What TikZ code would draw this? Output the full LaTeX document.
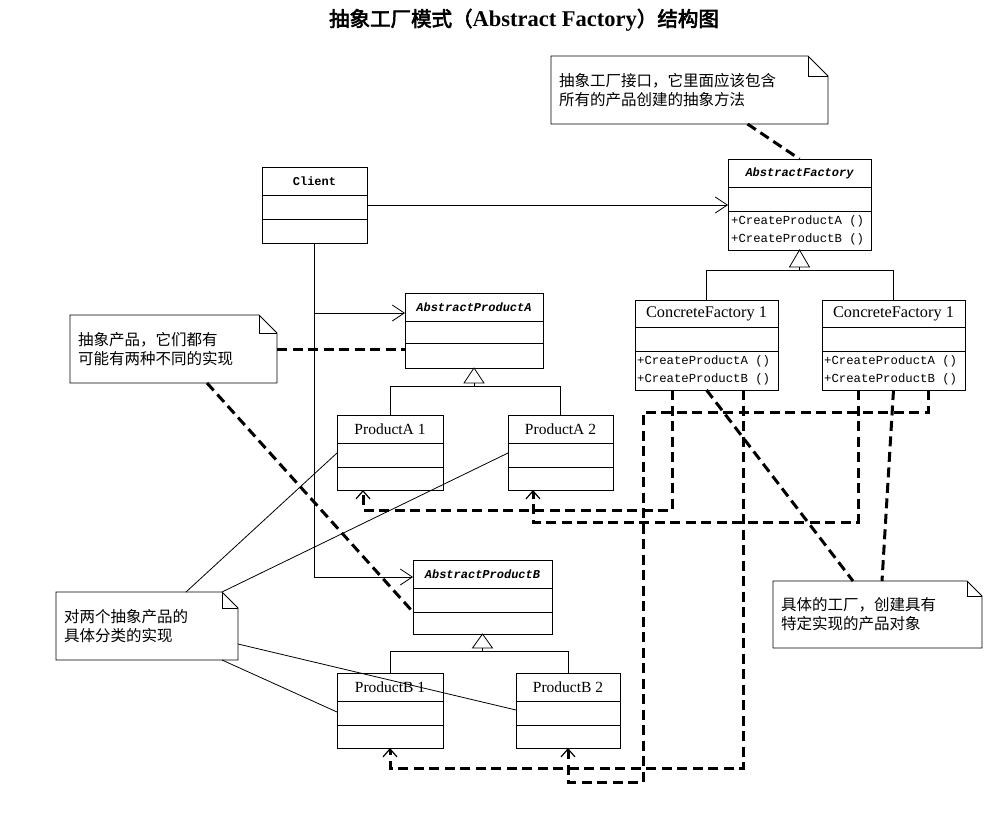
\documentclass[tikz,border=0pt]{standalone}
\usepackage{fontspec}
\setmainfont{Liberation Serif}
\newfontfamily\cjk{Noto Sans CJK SC}
\newfontfamily\cjkbold{Noto Sans CJK SC}[AutoFakeBold=3]
\newfontfamily\monof{Liberation Mono}
\newfontfamily\seriff{Liberation Serif}
\usetikzlibrary{arrows.meta,calc}

\newcommand{\umlclass}[7]{%
  \node[cls, minimum width={(#4-#2)*1pt}, minimum height={(#5-#3)*1pt}] (#1) at (#2,#3) {};
  \draw[bl] (#2,#6) -- (#4,#6) (#2,#7) -- (#4,#7);
}
\newcommand{\umlnote}[7]{%
  \node[inner sep=0pt, outer sep=0pt, anchor=north west, minimum width={(#4-#2)*1pt}, minimum height={(#5-#3)*1pt}] (#1) at (#2,#3) {};
  \draw[notebox] (#2,#3) -- (#4-#6,#3) -- (#4,#3+#6) -- (#4,#5) -- (#2,#5) -- cycle;
  \draw[notebox] (#4-#6,#3) -- (#4-#6,#3+#6) -- (#4,#3+#6);
  \node[notetext, anchor=west] (#1-t) at (#2+8, {(#3+#5)/2}) {#7};
}

\begin{document}
\begin{tikzpicture}[x=1pt,y=-1pt,
  bl/.style={line width=0.8pt},
  cls/.style={draw, line width=0.8pt, inner sep=0pt, outer sep=0pt, anchor=north west},
  notebox/.style={line width=0.9pt},
  notetext/.style={font=\cjk\fontsize{15.5}{19}\selectfont, align=left, inner sep=0pt},
  ctitle/.style={font=\seriff\fontsize{15.5}{16}\selectfont, inner sep=0pt},
  ftitle/.style={font=\seriff\fontsize{16.3}{17}\selectfont, inner sep=0pt},
  atitle/.style={font=\monof\bfseries\itshape\fontsize{12}{14}\selectfont, inner sep=0pt},
  meth/.style={font=\monof\fontsize{12.3}{14}\selectfont, inner sep=0pt, anchor=west},
  assoc/.style={line width=0.8pt, -{Straight Barb[length=12pt,width=16pt,line width=0.8pt]}},
  dep/.style={line width=3pt, dash pattern=on 10pt off 5.5pt},
  depar/.style={dep, -{Straight Barb[length=8pt,width=14pt,line width=1.2pt]}},
  gen/.style={line width=0.8pt, fill=white}
]
\useasboundingbox (0,0) rectangle (996,820);

% title
\node[inner sep=0pt] (title) at (524,20) {{\cjkbold\bfseries\fontsize{20.5}{24}\selectfont 抽象工厂模式（}{\seriff\bfseries\fontsize{22.5}{24}\selectfont Abstract Factory}{\cjkbold\bfseries\fontsize{20.5}{24}\selectfont ）结构图}};

% classes
\umlclass{client}{262}{167}{367}{243}{195}{219}
\node[font=\monof\bfseries\fontsize{12}{12}\selectfont, inner sep=0pt] (client-t) at ($(client.north)+(0,14)$) {Client};

\umlclass{af}{728}{159}{871}{250}{187}{211}
\node[atitle] (af-t) at ($(af.north)+(0,14)$) {AbstractFactory};
\node[meth] (af-m1) at ($(af.north west)+(3,62)$) {+CreateProductA ()};
\node[meth] (af-m2) at ($(af.north west)+(3,80)$) {+CreateProductB ()};

\umlclass{cf1}{635}{300}{778}{390}{327}{351}
\node[ftitle] (cf1-t) at ($(cf1.north)+(0,14)$) {ConcreteFactory 1};
\node[meth] (cf1-m1) at ($(cf1.north west)+(2,61)$) {+CreateProductA ()};
\node[meth] (cf1-m2) at ($(cf1.north west)+(2,79)$) {+CreateProductB ()};

\umlclass{cf2}{822}{300}{965}{390}{327}{351}
\node[ftitle] (cf2-t) at ($(cf2.north)+(0,14)$) {ConcreteFactory 1};
\node[meth] (cf2-m1) at ($(cf2.north west)+(2,61)$) {+CreateProductA ()};
\node[meth] (cf2-m2) at ($(cf2.north west)+(2,79)$) {+CreateProductB ()};

\umlclass{apa}{405}{293}{543}{368}{321}{343}
\node[atitle] (apa-t) at ($(apa.north)+(0,14)$) {AbstractProductA};

\umlclass{pa1}{337}{415}{443}{490}{443}{467}
\node[ctitle] (pa1-t) at ($(pa1.north)+(0,14)$) {ProductA 1};
\umlclass{pa2}{508}{415}{613}{490}{443}{467}
\node[ctitle] (pa2-t) at ($(pa2.north)+(0,14)$) {ProductA 2};

\umlclass{apb}{413}{560}{552}{634}{588}{612}
\node[atitle] (apb-t) at ($(apb.north)+(0,14)$) {AbstractProductB};

\umlclass{pb1}{337}{673}{443}{748}{701}{725}
\node[ctitle] (pb1-t) at ($(pb1.north)+(0,14)$) {ProductB 1};
\umlclass{pb2}{516}{673}{620}{748}{701}{725}
\node[ctitle] (pb2-t) at ($(pb2.north)+(0,14)$) {ProductB 2};

% generalizations
\draw[gen] (af.south) -- ++(-10,17) -- ++(20,0) -- cycle;
\draw[bl] ($(af.south)+(0,17)$) -- ++(0,3);
\draw[bl] (cf1.north) -- ++(0,-30) -| (cf2.north);

\draw[gen] (apa.south) -- ++(-10,15) -- ++(20,0) -- cycle;
\draw[bl] ($(apa.south)+(0,15)$) -- ++(0,3);
\draw[bl] (pa1.north) -- ++(0,-29) -| (pa2.north);

\draw[gen] (apb.south) -- ++(-10,14) -- ++(20,0) -- cycle;
\draw[bl] ($(apb.south)+(0,14)$) -- ++(0,3);
\draw[bl] (pb1.north) -- ++(0,-22) -| (pb2.north);

% client associations
\draw[assoc] (client.east) -- (client.east -| af.west);
\draw[assoc] (client.south) |- ($(apb.north west)+(0,17)$);
\draw[assoc] ($(client.south)+(0,70)$) -- ($(apa.north west)+(0,20)$);

% notes
\umlnote{n1}{551}{56}{828}{124}{20}{抽象工厂接口，它里面应该包含\\所有的产品创建的抽象方法}
\umlnote{n2}{70}{315}{277}{383}{18}{抽象产品，它们都有\\可能有两种不同的实现}
\umlnote{n3}{56}{592}{238}{660}{16}{对两个抽象产品的\\具体分类的实现}
\umlnote{n4}{773}{581}{982}{648}{15}{具体的工厂，创建具有\\特定实现的产品对象}

% note links
\draw[dep] ($(n1.south)+(58,0)$) -- (af.north);
\draw[dep] (n2.east) -- (n2.east -| apa.west);
\draw[dep] ($(n2.south)+(33.5,0)$) -- ($(apb.north west)+(0,52)$);
\draw[dep] (cf1.south) -- ($(n4.north west)+(80,0)$);
\draw[dep] (cf2.south) -- ($(n4.north west)+(109,0)$);

\draw[bl] ($(n3.north west)+(130,0)$) -- ($(pa1.north west)+(0,38)$);
\draw[bl] ($(n3.north east)+(-16,0)$) -- ($(pa2.north west)+(0,38)$);
\draw[bl] ($(n3.north east)+(0,52)$) -- ($(pb2.north west)+(0,37)$);
\draw[bl] ($(n3.south east)+(-16,0)$) -- ($(pb1.north west)+(0,39)$);

% dependencies
\draw[depar] ($(cf1.south west)+(37,0)$) -- ++(0,120) -| ($(pa1.south west)+(26,0)$);
\draw[depar] ($(cf2.south west)+(36,0)$) -- ++(0,132) -| ($(pa2.south west)+(25,0)$);
\draw[depar] ($(cf1.south west)+(108,0)$) -- ++(0,378) -| (pb1.south);
\draw[depar] ($(cf2.south west)+(106,0)$) -- ++(0,22) -- ++(-285,0) -- ++(0,370) -| (pb2.south);
\end{tikzpicture}
\end{document}
